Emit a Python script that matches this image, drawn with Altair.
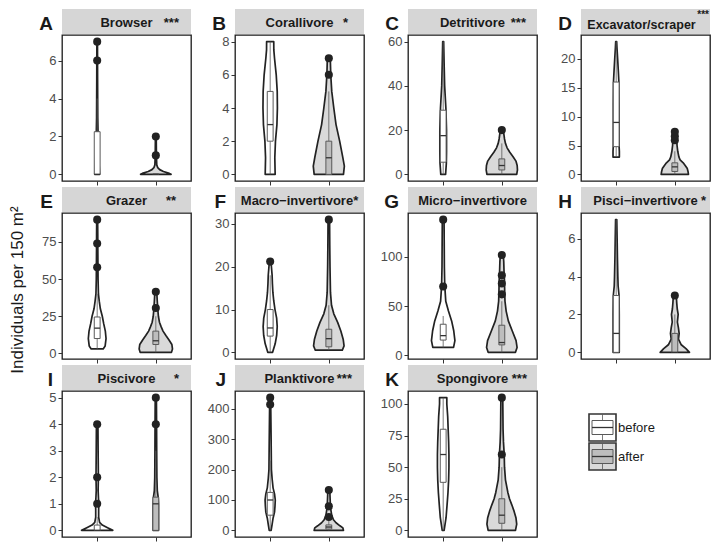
import altair as alt
import pandas as pd

# ---------------- data ----------------
TITLES = ["Browser", "Corallivore", "Detritivore", "Excavator/scraper", "Grazer",
          "Macro\u2212invertivore", "Micro\u2212invertivore", "Pisci\u2212invertivore",
          "Piscivore", "Planktivore", "Spongivore"]
LETTERS = ["A", "B", "C", "D", "E", "F", "G", "H", "I", "J", "K"]
STARS = ["***", "*", "***", "***", "**", "*", "", "*", "*", "***", "***"]
YTICKS = [[0, 2, 4, 6], [0, 2, 4, 6, 8], [0, 20, 40, 60], [0, 5, 10, 15, 20],
          [0, 25, 50, 75], [0, 10, 20, 30], [0, 50, 100], [0, 2, 4, 6],
          [0, 1, 2, 3, 4, 5], [0, 100, 200, 300, 400], [0, 25, 50, 75, 100]]
GROUPS = ["before", "after"]
GROUP_X = [1, 2]

# violin outlines: (y values, half widths in x units)
V_BROWSER = {"before": ([0, 0.5, 1, 2, 3, 5, 7], [0.041, 0.033, 0.025, 0.016, 0.01, 0.007, 0.005]),
             "after": ([0, 0.05, 0.15, 0.25, 0.35, 0.5, 1, 2], [0.26, 0.23, 0.13, 0.066, 0.033, 0.016, 0.01, 0.007])}
V_CORAL = {"before": ([0, 1, 2, 3, 4, 5, 6, 7, 7.5, 8], [0.085, 0.079, 0.09, 0.115, 0.123, 0.12, 0.103, 0.074, 0.062, 0.061]),
           "after": ([0, 0.5, 1, 2, 3, 4, 5, 6, 7], [0.25, 0.265, 0.24, 0.185, 0.123, 0.085, 0.05, 0.033, 0.025])}
V_DETRI = {"before": ([0, 5, 10, 20, 30, 40, 50, 60], [0.041, 0.054, 0.057, 0.057, 0.046, 0.025, 0.016, 0.008]),
           "after": ([0, 2, 4, 6, 8, 10, 12, 14, 16, 18, 20], [0.254, 0.267, 0.262, 0.241, 0.192, 0.136, 0.09, 0.062, 0.046, 0.036, 0.025])}
V_EXCAV = {"before": ([3, 4, 5, 8, 12, 16, 18, 20, 22, 23], [0.054, 0.054, 0.049, 0.049, 0.049, 0.046, 0.036, 0.025, 0.013, 0.008]),
           "after": ([0, 0.5, 1, 1.5, 2, 2.5, 3, 4, 5, 6, 7.4], [0.233, 0.225, 0.213, 0.18, 0.143, 0.09, 0.07, 0.05, 0.038, 0.033, 0.025])}
V_GRAZER = {"before": ([3, 5, 10, 15, 20, 25, 30, 35, 40, 50, 60, 70, 80, 90],
                       [0.102, 0.136, 0.151, 0.139, 0.111, 0.087, 0.054, 0.036, 0.021, 0.015, 0.013, 0.011, 0.01, 0.008]),
            "after": ([0.7, 3, 6, 9, 12, 15, 18, 21, 25, 30, 35, 41.5],
                      [0.267, 0.284, 0.274, 0.225, 0.172, 0.123, 0.09, 0.062, 0.044, 0.033, 0.025, 0.016])}
V_MACRO = {"before": ([0, 2, 4, 6, 8, 10, 12, 14, 16, 18, 20, 21.2],
                      [0.041, 0.085, 0.111, 0.12, 0.11, 0.082, 0.061, 0.046, 0.038, 0.033, 0.021, 0.016]),
           "after": ([0.5, 1.5, 3, 5, 7, 9, 11, 14, 20, 25, 31],
                     [0.23, 0.26, 0.246, 0.205, 0.151, 0.085, 0.046, 0.028, 0.02, 0.016, 0.013])}
V_MICRO = {"before": ([8, 15, 25, 35, 45, 55, 65, 75, 90, 110, 138],
                      [0.177, 0.2, 0.18, 0.144, 0.09, 0.044, 0.033, 0.025, 0.02, 0.018, 0.015]),
           "after": ([3, 8, 15, 25, 35, 45, 55, 65, 75, 85, 95, 102],
                     [0.233, 0.26, 0.243, 0.177, 0.111, 0.074, 0.054, 0.049, 0.046, 0.038, 0.033, 0.025])}
V_PISCINV = {"before": ([0, 1, 2, 3, 3.5, 4, 5, 6, 7], [0.052, 0.052, 0.052, 0.049, 0.033, 0.028, 0.021, 0.016, 0.01]),
             "after": ([0, 0.2, 0.4, 0.7, 1, 1.3, 1.6, 2, 2.3, 2.6, 3],
                       [0.25, 0.19, 0.11, 0.062, 0.074, 0.061, 0.044, 0.057, 0.041, 0.033, 0.025])}
V_PISCI = {"before": ([0, 0.1, 0.2, 0.3, 0.5, 0.8, 1, 1.2, 1.5, 2, 3, 4],
                      [0.266, 0.177, 0.087, 0.041, 0.025, 0.025, 0.03, 0.022, 0.016, 0.02, 0.016, 0.013]),
           "after": ([0, 0.5, 1, 1.25, 1.5, 2, 3, 4, 5], [0.046, 0.046, 0.046, 0.04, 0.025, 0.018, 0.015, 0.013, 0.01])}
V_PLANK = {"before": ([0, 20, 40, 60, 80, 100, 120, 140, 170, 200, 300, 437],
                      [0.016, 0.033, 0.049, 0.074, 0.082, 0.087, 0.074, 0.049, 0.033, 0.021, 0.016, 0.008]),
           "after": ([0, 8, 15, 25, 35, 50, 70, 90, 133], [0.25, 0.24, 0.19, 0.123, 0.079, 0.049, 0.033, 0.025, 0.016])}
V_SPONG = {"before": ([0, 10, 20, 30, 40, 50, 60, 70, 80, 90, 100, 105],
                      [0.016, 0.049, 0.066, 0.082, 0.093, 0.098, 0.098, 0.093, 0.085, 0.077, 0.062, 0.062]),
           "after": ([0, 5, 10, 15, 20, 25, 30, 40, 50, 60, 70, 80, 105],
                     [0.233, 0.254, 0.241, 0.21, 0.172, 0.131, 0.103, 0.062, 0.046, 0.041, 0.028, 0.021, 0.016])}
VIOLINS = [V_BROWSER, V_CORAL, V_DETRI, V_EXCAV, V_GRAZER, V_MACRO, V_MICRO, V_PISCINV, V_PISCI, V_PLANK, V_SPONG]

# box stats: (lower whisker, Q1, median, Q3, upper whisker)
BOXES = [
    {"before": (0, 0, 0, 2.25, 4), "after": (0, 0, 0, 0, 0)},
    {"before": (0, 2, 3, 5, 8), "after": (0, 0, 1, 2, 5)},
    {"before": (0, 5.5, 17.5, 29, 60), "after": (0, 2, 4, 7, 14)},
    {"before": (3, 4.8, 9, 16, 23), "after": (0, 0.5, 1.3, 2, 4)},
    {"before": (3, 10, 17, 24.5, 40), "after": (0.7, 6, 8.5, 15, 25)},
    {"before": (0, 3.8, 5.7, 10, 18), "after": (0.5, 1.3, 3.2, 5.4, 11)},
    {"before": (8, 15.5, 20, 31.6, 40), "after": (3, 10.6, 13, 30.6, 55)},
    {"before": (0, 0, 1, 3, 7), "after": (0, 0, 0, 1, 2)},
    {"before": (0, 0, 0, 0.2, 0.5), "after": (0, 0, 1, 1.25, 3)},
    {"before": (0, 50, 100, 125, 230), "after": (0, 4, 11, 18, 35)},
    {"before": (0, 38, 60, 80, 105), "after": (0, 5.6, 12, 25, 50)},
]
OUTLIERS = [
    {"before": [6, 7], "after": [1, 2]},
    {"before": [], "after": [6, 7]},
    {"before": [], "after": [20]},
    {"before": [], "after": [5.9, 6.6, 7.4]},
    {"before": [58, 74, 90], "after": [30.5, 41.5]},
    {"before": [21.2], "after": [31]},
    {"before": [70, 138], "after": [62, 73, 81.5, 102]},
    {"before": [], "after": [3]},
    {"before": [1, 2, 4], "after": [4, 5]},
    {"before": [414, 437], "after": [44, 79, 133]},
    {"before": [], "after": [60, 105]},
]
Y_TITLE = "Individuals per 150 m\u00b2"

# ---------------- style / layout ----------------
W, H, HEAD = 129, 146, 26
COLSP, ROWSP = 44, 32
BOX_HALF = 0.05
FONT = "Liberation Sans"
STAR_MODE = ["right", "right", "right", "sup", "right", "join", "none", "right", "right", "right", "right"]
STAR_DX = [12, 16, 11, 1, 15, 0, 0, 4, 12, 12, 10]
VIOLIN_FILL = ["#ffffff", "#d9d9d9"]
BOX_FILL = ["#ffffff", "#bdbdbd"]
LEG_TOP = [23, 52]

ONE = pd.DataFrame({"k": [0]})


def txt(s, x, y, size=13, bold=False, align="center", baseline="alphabetic", color="#1a1a1a", angle=0):
    mk = alt.Chart(ONE).mark_text(fontSize=size, fontWeight="bold" if bold else "normal",
                                  align=align, baseline=baseline, color=color, angle=angle, font=FONT)
    return mk.encode(x=alt.value(x), y=alt.value(y), text=alt.value(s))


def panel(i):
    vio, box, out = VIOLINS[i], BOXES[i], OUTLIERS[i]
    vrows, brows, orows = [], [], []
    for g, gx in zip(GROUPS, GROUP_X):
        ys, hws = vio[g]
        for y, hw in zip(ys, hws):
            vrows.append({"g": g, "y": y, "xl": gx - hw, "xr": gx + hw})
        lo, q1, med, q3, hi = box[g]
        brows.append({"g": g, "gx": gx, "bl": gx - BOX_HALF, "br": gx + BOX_HALF,
                      "lo": lo, "q1": q1, "med": med, "q3": q3, "hi": hi})
        for v in out[g]:
            orows.append({"g": g, "gx": gx, "y": v})
    vdf = pd.DataFrame(vrows)
    bdf = pd.DataFrame(brows)
    odf = pd.DataFrame(orows, columns=["g", "gx", "y"])

    allv = list(vdf["y"]) + list(odf["y"])
    lo_, hi_ = min(allv), max(allv)
    pad = 0.05 * (hi_ - lo_)
    ys = alt.Scale(domain=[lo_ - pad, hi_ + pad], nice=False, zero=False)
    ya = alt.Axis(values=YTICKS[i], title=None, grid=False, domain=False, tickSize=4,
                  tickColor="#333333", labelColor="#4d4d4d", labelFontSize=13, labelPadding=2,
                  labelFont=FONT)
    xs = alt.Scale(domain=[0.4, 2.6], nice=False, zero=False)
    xa = alt.Axis(values=GROUP_X, labels=False, title=None, grid=False, domain=False,
                  tickSize=4, tickColor="#333333")

    def X(f):
        return alt.X(f, type="quantitative", scale=xs, axis=xa)

    def Y(f):
        return alt.Y(f, type="quantitative", scale=ys, axis=ya)

    violin = alt.Chart(vdf).mark_area(orient="horizontal", stroke="#222222", strokeWidth=1.7,
                                      fillOpacity=1, strokeJoin="round").encode(
        y=Y("y"), x=X("xl"), x2="xr", detail="g:N",
        fill=alt.Fill("g:N", scale=alt.Scale(domain=GROUPS, range=VIOLIN_FILL), legend=None))
    wl = alt.Chart(bdf).mark_rule(color="#595959", strokeWidth=0.8).encode(x=X("gx"), y=Y("lo"), y2="q1")
    wu = alt.Chart(bdf).mark_rule(color="#595959", strokeWidth=0.8).encode(x=X("gx"), y=Y("q3"), y2="hi")
    boxr = alt.Chart(bdf).mark_rect(stroke="#595959", strokeWidth=1).encode(
        x=X("bl"), x2="br", y=Y("q1"), y2="q3",
        fill=alt.Fill("g:N", scale=alt.Scale(domain=GROUPS, range=BOX_FILL), legend=None))
    medr = alt.Chart(bdf).mark_rule(color="#333333", strokeWidth=1.3).encode(x=X("bl"), x2="br", y=Y("med"))
    pts = alt.Chart(odf).mark_circle(size=65, color="#222222", opacity=1).encode(x=X("gx"), y=Y("y"))

    strip = alt.Chart(ONE).mark_rect(color="#d6d6d6").encode(
        x=alt.value(0), x2=alt.value(W), y=alt.value(-HEAD), y2=alt.value(-1))
    layers = [strip]
    mode = STAR_MODE[i]
    title = TITLES[i] + (STARS[i] if mode == "join" else "")
    if mode == "sup":
        layers.append(txt(title, W / 2 - 4, -6, size=12.5, bold=True))
        layers.append(txt(STARS[i], W - STAR_DX[i], -HEAD + 0.5, size=10, bold=True,
                          align="right", baseline="top"))
    else:
        layers.append(txt(title, W / 2, -HEAD * 0.32, bold=True))
    if mode == "right":
        layers.append(txt(STARS[i], W - STAR_DX[i], -HEAD * 0.32, bold=True, align="right"))
    layers.append(txt(LETTERS[i], -9, -HEAD * 0.21, size=19, bold=True, align="right"))
    if i == 4:
        layers.append(txt(Y_TITLE, -44, H / 2 + 4, size=17, align="center", baseline="middle", angle=270))
    layers += [violin, wl, wu, boxr, medr, pts]
    return alt.layer(*layers).resolve_scale(fill="independent").properties(width=W, height=H)


def legend_chart():
    layers = []
    for k, (g, top) in enumerate(zip(GROUPS, LEG_TOP)):
        layers.append(alt.Chart(ONE).mark_rect(fill=VIOLIN_FILL[k], stroke="#333333", strokeWidth=1.6).encode(
            x=alt.value(8), x2=alt.value(35), y=alt.value(top), y2=alt.value(top + 27)))
        layers.append(alt.Chart(ONE).mark_rule(color="#595959", strokeWidth=0.8).encode(
            x=alt.value(21.5), y=alt.value(top), y2=alt.value(top + 6.5)))
        layers.append(alt.Chart(ONE).mark_rule(color="#595959", strokeWidth=0.8).encode(
            x=alt.value(21.5), y=alt.value(top + 20.5), y2=alt.value(top + 27)))
        layers.append(alt.Chart(ONE).mark_rect(fill=BOX_FILL[k], stroke="#595959", strokeWidth=1).encode(
            x=alt.value(11), x2=alt.value(32), y=alt.value(top + 6.5), y2=alt.value(top + 20.5)))
        layers.append(alt.Chart(ONE).mark_rule(color="#333333", strokeWidth=1.3).encode(
            x=alt.value(11), x2=alt.value(32), y=alt.value(top + 13.5)))
        layers.append(txt(g, 37, top + 14, size=13, align="left", baseline="middle"))
    return alt.layer(*layers).properties(width=W, height=H,
                                         view=alt.ViewBackground(stroke="transparent"))


charts = [panel(i) for i in range(len(TITLES))] + [legend_chart()]
chart = alt.concat(*charts, columns=4, spacing={"row": ROWSP, "column": COLSP},
                   bounds="flush").properties(padding=0)
chart = chart.configure(font=FONT).configure_view(stroke="#1a1a1a", strokeWidth=1.3)
chart.save("out.html", embed_options={"renderer": "svg", "actions": False})
